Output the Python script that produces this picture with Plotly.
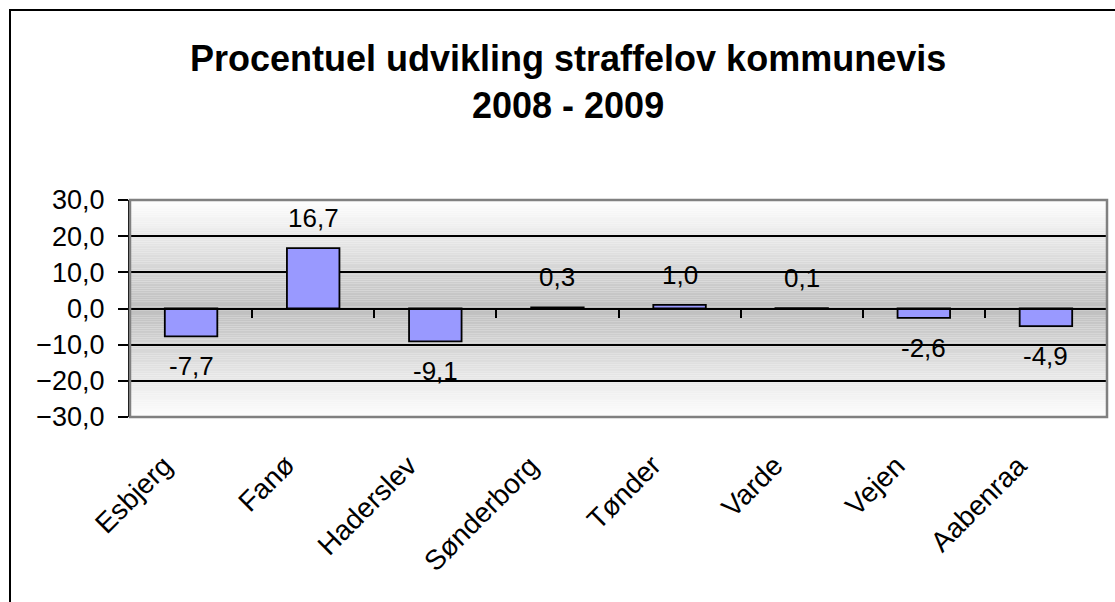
import plotly.graph_objects as go

# data
kommuner = ["Esbjerg", "Fanø", "Haderslev", "Sønderborg", "Tønder", "Varde", "Vejen", "Aabenraa"]
udvikling = [-7.7, 16.7, -9.1, 0.3, 1.0, 0.1, -2.6, -4.9]
title_lines = ["Procentuel udvikling straffelov kommunevis", "2008 - 2009"]

W, H = 1115, 602
L, R, T, B = 130, 8, 200, 185
pw, ph = W - L - R, H - T - B


def px_x(x):
    return (x - L) / pw


def px_y(y):
    return (H - B - y) / ph


FONT = "Liberation Sans, Arial, sans-serif"

fig = go.Figure()

fig.add_trace(go.Bar(
    x=kommuner, y=udvikling, width=0.43,
    marker=dict(color="#9999FF", line=dict(color="black", width=1.8)),
    hoverinfo="x+y",
))
# hidden trace so the middle axis (category boundary ticks) renders
fig.add_trace(go.Scatter(
    x=kommuner, y=[0] * len(kommuner), xaxis="x2", yaxis="y",
    mode="markers", marker=dict(opacity=0), hoverinfo="skip", showlegend=False,
))

# gradient background: grey at 0, white towards +-30
shapes = []
n = 120
for i in range(n):
    y0 = -30 + 60 * i / n
    y1 = -30 + 60 * (i + 1) / n
    d = abs((y0 + y1) / 2) / 30
    g = int(round(190 + (254 - 190) * d))
    shapes.append(dict(type="rect", xref="x domain", yref="y", x0=0, x1=1, y0=y0, y1=y1,
                       fillcolor=f"rgb({g},{g},{g})", line=dict(width=0), layer="below"))
# plot frame
shapes.append(dict(type="rect", xref="x domain", yref="y domain", x0=0, x1=1, y0=0, y1=1,
                   line=dict(color="#808080", width=2.5), layer="above"))
# outer chart border (only left and top visible in the window)
shapes.append(dict(type="rect", xref="paper", yref="paper",
                   x0=px_x(10), x1=px_x(1140), y0=px_y(640), y1=px_y(10),
                   line=dict(color="black", width=2), layer="above"))

annotations = []
# value labels
for k, v in zip(kommuner, udvikling):
    annotations.append(dict(
        x=k, y=v, xref="x", yref="y", text=f"{v:.1f}".replace(".", ","),
        showarrow=False, yanchor="middle", yshift=30 if v >= 0 else -30,
        font=dict(family=FONT, size=26, color="black"),
    ))
# rotated category labels
for k in kommuner:
    annotations.append(dict(
        x=k, y=px_y(447), xref="x", yref="paper", text=k, textangle=-45,
        showarrow=False, xanchor="right", yanchor="top", xshift=-10,
        font=dict(family=FONT, size=28, color="black"),
    ))
# title
for line, py in zip(title_lines, [58, 105]):
    annotations.append(dict(
        x=px_x(568), y=px_y(py), xref="paper", yref="paper", text=f"<b>{line}</b>",
        showarrow=False, xanchor="center", yanchor="middle",
        font=dict(family=FONT, size=36, color="black"),
    ))

fig.update_layout(
    width=W, height=H,
    margin=dict(l=L, r=R, t=T, b=B),
    paper_bgcolor="white", plot_bgcolor="white",
    separators=",.",
    showlegend=False,
    font=dict(family=FONT, size=26, color="black"),
    xaxis=dict(
        type="category", categoryarray=kommuner, range=[-0.5, 7.5],
        showline=False, showgrid=False, ticks="", showticklabels=False,
    ),
    xaxis2=dict(
        type="category", categoryarray=kommuner, range=[-0.5, 7.5],
        overlaying="x", anchor="free", position=0.5, side="bottom",
        showline=True, linecolor="black", linewidth=2,
        ticks="outside", tickson="boundaries", ticklen=8, tickwidth=2, tickcolor="black",
        showticklabels=False, showgrid=False,
    ),
    yaxis=dict(
        range=[-30, 30], dtick=10, tickformat=".1f",
        showgrid=True, gridcolor="black", gridwidth=2,
        zeroline=True, zerolinecolor="black", zerolinewidth=2,
        showline=True, linecolor="black", linewidth=2,
        ticks="outside", ticklen=10, tickwidth=2, tickcolor="black",
        ticklabelstandoff=8, tickfont=dict(size=27),
    ),
    shapes=shapes,
    annotations=annotations,
)

fig.write_html("out.html", config={"displayModeBar": False},
               post_script="document.body.style.margin='0';")
